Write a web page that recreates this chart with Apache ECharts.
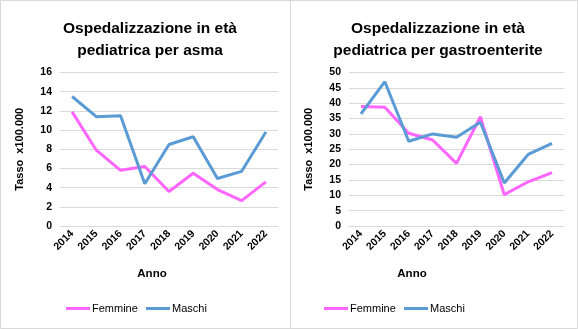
<!DOCTYPE html>
<html><head><meta charset="utf-8">
<script src="https://cdn.jsdelivr.net/npm/echarts@6/dist/echarts.min.js"></script>
<style>html,body{margin:0;padding:0;background:#fff}#c{width:578px;height:329px}</style>
</head><body><div id="c"></div>
<script>
const years = ['2014','2015','2016','2017','2018','2019','2020','2021','2022'];
const asmaFemmine = [11.9, 7.9, 5.8, 6.2, 3.6, 5.5, 3.8, 2.65, 4.6];
const asmaMaschi = [13.5, 11.4, 11.5, 4.4, 8.5, 9.3, 4.95, 5.7, 9.8];
const gastroFemmine = [38.9, 38.7, 30.2, 28.0, 20.4, 35.6, 10.2, 14.4, 17.4];
const gastroMaschi = [36.5, 47.0, 27.6, 30.0, 28.9, 33.8, 14.0, 23.3, 26.9];
const titles = ['Ospedalizzazione in età\npediatrica per asma', 'Ospedalizzazione in età\npediatrica per gastroenterite'];
const seriesNames = ['Femmine', 'Maschi'];
const yAxisName = 'Tasso  x100.000';
const xAxisName = 'Anno';

const FONT = 'Liberation Sans, Arial, sans-serif';
const pink = '#FF66FF', blue = '#5B9BD5', grid = '#D9D9D9', txt = '#000';

function yAx(idx, max, interval){
  return {gridIndex: idx, type:'value', min:0, max:max, interval:interval,
    name: yAxisName, nameLocation:'middle', nameGap:35, nameRotate:90,
    nameTextStyle:{fontFamily:FONT, fontWeight:'bold', fontSize:11, color:txt},
    axisLine:{show:false}, axisTick:{show:false},
    axisLabel:{fontFamily:FONT, fontWeight:'bold', fontSize:10.5, color:txt, margin:8},
    splitLine:{lineStyle:{color:grid, width:1}}};
}
function xAx(idx){
  return {gridIndex: idx, type:'category', data: years, boundaryGap:true,
    axisLine:{lineStyle:{color:grid}}, axisTick:{show:false},
    axisLabel:{fontFamily:FONT, fontWeight:'bold', fontSize:10.5, color:txt, rotate:45, margin:6, interval:0}};
}
function ser(name, data, color, idx){
  return {name:name, type:'line', xAxisIndex:idx, yAxisIndex:idx, data:data, symbol:'none',
    lineStyle:{color:color, width:3}, itemStyle:{color:color}};
}
function legendItems(x0, x1){
  const mk = (x, name, color) => [
    {type:'rect', shape:{x:x, y:307, width:24, height:3}, style:{fill:color}, silent:true},
    {type:'text', x:x+26, y:308.5, style:{text:name, fontFamily:FONT, fontSize:11, fill:txt, verticalAlign:'middle'}, silent:true}
  ];
  return mk(x0, seriesNames[0], pink).concat(mk(x1, seriesNames[1], blue));
}
const chart = echarts.init(document.getElementById('c'), null, {renderer:'canvas'});
chart.setOption({
  animation:false,
  title:[
    {text:titles[0], left:145, textAlign:'center', top:13, textStyle:{fontFamily:FONT, fontWeight:'bold', fontSize:15.5, color:txt, lineHeight:22}},
    {text:titles[1], left:433, textAlign:'center', top:13, textStyle:{fontFamily:FONT, fontWeight:'bold', fontSize:15.5, color:txt, lineHeight:22}}
  ],
  grid:[
    {left:60, right:300, top:72.5, height:153.5},
    {left:349, right:14, top:72.5, height:153.5}
  ],
  xAxis:[xAx(0), xAx(1)],
  yAxis:[yAx(0,16,2), yAx(1,50,5)],
  series:[
    ser(seriesNames[0], asmaFemmine, pink, 0), ser(seriesNames[1], asmaMaschi, blue, 0),
    ser(seriesNames[0], gastroFemmine, pink, 1), ser(seriesNames[1], gastroMaschi, blue, 1)
  ],
  graphic:[
    {type:'rect', shape:{x:0.5, y:0.5, width:577, height:328}, style:{fill:'none', stroke:'#D9D9D9', lineWidth:1}, silent:true},
    {type:'line', shape:{x1:290.5, y1:0, x2:290.5, y2:329}, style:{stroke:'#D9D9D9', lineWidth:1}, silent:true},
    {type:'text', x:152, y:274, style:{text:xAxisName, fontFamily:FONT, fontWeight:'bold', fontSize:11.5, fill:txt, align:'center', verticalAlign:'middle'}},
    {type:'text', x:412, y:274, style:{text:xAxisName, fontFamily:FONT, fontWeight:'bold', fontSize:11.5, fill:txt, align:'center', verticalAlign:'middle'}}
  ].concat(legendItems(66, 146), legendItems(324, 404))
});
</script></body></html>
